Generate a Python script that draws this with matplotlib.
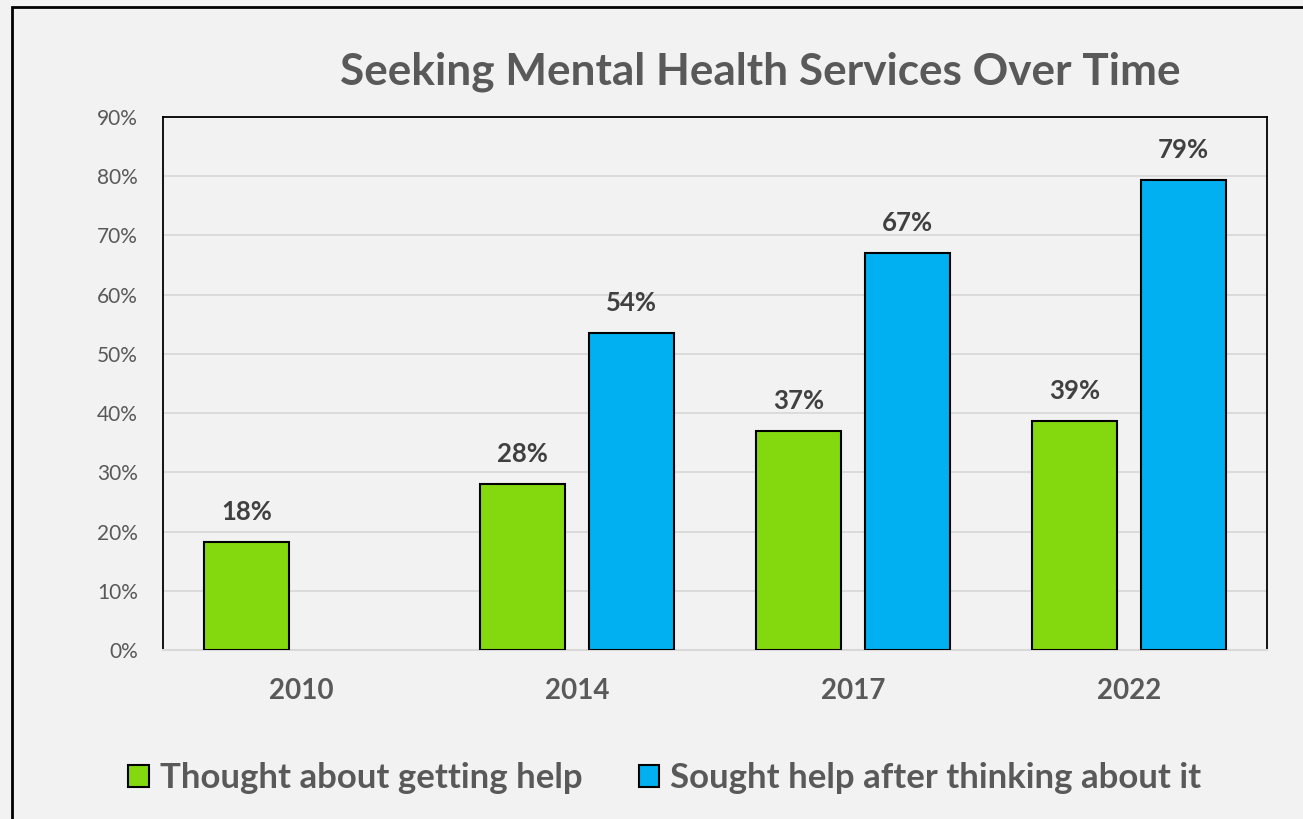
import matplotlib
matplotlib.use("Agg")
import matplotlib.pyplot as plt
from matplotlib.patches import Rectangle
import numpy as np

years = ["2010", "2014", "2017", "2022"]
thought = [18.2, 28.0, 37.0, 38.7]
sought = [None, 53.6, 67.1, 79.4]
thought_labels = ["18%", "28%", "37%", "39%"]
sought_labels = ["", "54%", "67%", "79%"]
series_names = ["Thought about getting help", "Sought help after thinking about it"]
yticks = [0, 10, 20, 30, 40, 50, 60, 70, 80, 90]

plt.rcParams['font.family'] = ['Lato', 'DejaVu Sans']
BG = "#f2f2f2"
GREEN = "#84d90e"
BLUE = "#00b0f0"

W, H = 1303, 819
fig = plt.figure(figsize=(W / 100, H / 100), dpi=100, facecolor=BG)
ax = fig.add_axes([163 / W, 1 - 650 / H, (1267 - 163) / W, (650 - 117) / H])
ax.set_facecolor(BG)

x = np.arange(len(years))
bw = 0.308
off = 0.196
tv = [v for v in thought]
sv = [np.nan if v is None else v for v in sought]
b1 = ax.bar(x - off, tv, bw, color=GREEN, edgecolor="black", linewidth=1.5, label=series_names[0], zorder=3)
b2 = ax.bar(x + off, sv, bw, color=BLUE, edgecolor="black", linewidth=1.5, label=series_names[1], zorder=3)

for xi, v, lab in zip(x - off, tv, thought_labels):
    ax.text(xi, v + 3.0, lab, ha="center", va="bottom", fontsize=18.5, fontweight="bold", color="#404040")
for xi, v, lab in zip(x + off, sv, sought_labels):
    if lab:
        ax.text(xi, v + 3.0, lab, ha="center", va="bottom", fontsize=18.5, fontweight="bold", color="#404040")

ax.set_xlim(-0.5, len(years) - 0.5)
ax.set_ylim(0, 90)
ax.set_yticks(yticks)
ax.set_yticklabels([f"{t}%" for t in yticks], fontsize=15, color="#595959")
ax.set_xticks(x)
ax.set_xticklabels(years, fontsize=20, fontweight="bold", color="#595959")
ax.tick_params(axis="y", length=0, pad=18)
ax.tick_params(axis="x", length=0, pad=20)
ax.grid(axis="y", color="#d9d9d9", linewidth=1.3, zorder=0)
ax.set_axisbelow(True)
for s in ["left", "top", "right"]:
    ax.spines[s].set_color("black")
    ax.spines[s].set_linewidth(1.3)
ax.spines["bottom"].set_color("#d9d9d9")
ax.spines["bottom"].set_linewidth(1.5)

fig.text(760 / W, 1 - 72 / H, "Seeking Mental Health Services Over Time", ha="center", va="center",
         fontsize=31.8, fontweight="bold", color="#595959")

leg = fig.legend(handles=[b1, b2], loc="center", bbox_to_anchor=(665 / W, 1 - 778 / H), ncol=2,
                 frameon=False, fontsize=25, handlelength=0.6, handleheight=0.6, handletextpad=0.32,
                 columnspacing=1.6)
for t in leg.get_texts():
    t.set_fontweight("bold")
    t.set_color("#595959")

fig.patches.append(Rectangle((12 / W, -0.1), 1.2, (1 - 7 / H) + 0.1, transform=fig.transFigure,
                             fill=False, edgecolor="black", linewidth=2))

fig.savefig("out.png", dpi=100, facecolor=BG)
